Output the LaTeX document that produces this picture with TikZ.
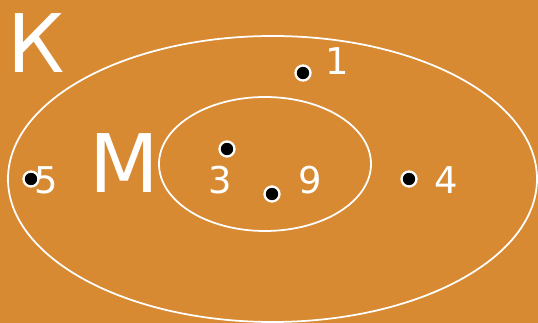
\documentclass[tikz,border=0pt]{standalone}
\usepackage{fontspec}
\setmainfont{DejaVu Sans}
\definecolor{bg}{RGB}{215,138,50}
\begin{document}
\begin{tikzpicture}[x=0.02cm,y=-0.02cm,
  pt/.style={circle,fill=black,draw=white,line width=1.3pt,inner sep=0pt,minimum size=15*0.02cm},
  num/.style={text=white,font=\fontsize{21}{21}\selectfont,inner sep=0pt,anchor=base},
  big/.style={text=white,font=\fontsize{46}{46}\selectfont,inner sep=0pt,anchor=base},
  ring/.style={draw=white,line width=1pt}]
\fill[bg] (0,0) rectangle (538,323);
\useasboundingbox (0,0) rectangle (538,323);
\draw[ring] (272.5,179) ellipse [x radius=264.5, y radius=143];
\draw[ring] (265,164) ellipse [x radius=106, y radius=67];
\node[big] (K) at (36,73) {К};
\node[big] (M) at (124,193) {М};
\node[pt] (p1) at (303,73) {};
\node[pt] (p5) at (31,179) {};
\node[pt] (p3) at (227,149) {};
\node[pt] (p9) at (272,194) {};
\node[pt] (p4) at (409,179) {};
\node[num] (l1) at (337,75) {1};
\node[num] (l5) at (46,194) {5};
\node[num] (l3) at (220,194) {3};
\node[num] (l9) at (310,194) {9};
\node[num] (l4) at (446,194) {4};
\end{tikzpicture}
\end{document}
